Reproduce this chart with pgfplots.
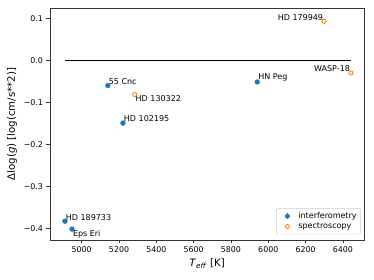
\documentclass[border=0pt]{standalone}
\usepackage{pgfplots}
\pgfplotsset{compat=1.18}
\usepackage{fontspec}
\setmainfont{DejaVu Sans}
\definecolor{mplblue}{HTML}{1F77B4}
\definecolor{mplorange}{HTML}{FF7F0E}
\begin{document}
\begin{tikzpicture}
\begin{axis}[
  scale only axis, width=314pt, height=232pt,
  xmin=4830, xmax=6513, ymin=-0.428, ymax=0.1255,
  xtick={5000,5200,5400,5600,5800,6000,6200,6400},
  xticklabels={5000,5200,5400,5600,5800,6000,6200,6400},
  ytick={-0.4,-0.3,-0.2,-0.1,0,0.1},
  yticklabels={−0.4,−0.3,−0.2,−0.1,0.0,0.1},
  tick align=outside, tick pos=left,
  major tick length=3.5pt,
  tick style={line width=0.8pt, black!80},
  ticklabel style={font=\fontsize{7.9}{9}\selectfont},
  axis line style={line width=0.8pt, black!80},
  xlabel={\textit{T}\textsubscript{\textit{eff}} [K]},
  ylabel={Δlog(\textit{g}) [log(cm/s**2)]},
  label style={font=\fontsize{10.2}{12}\selectfont},
  xlabel style={yshift=1pt},
  clip=false,
  legend style={at={(0.99,0.025)}, anchor=south east, draw=black!20, rounded corners=2pt,
    font=\fontsize{8}{9}\selectfont, row sep=-1pt, inner sep=2pt},
  legend cell align=left,
]
\addplot[black, line width=1.3pt, forget plot] coordinates {(4910,0) (6443,0)};
\addplot[only marks, mark=*, mark size=2.4pt, mplblue,
  legend image code/.code={\path (-0.1cm,0) (0.5cm,0); \draw[mplblue, line width=0.8pt] (0.2cm,-0.1cm)--(0.2cm,0.1cm); \fill[mplblue] (0.2cm,0cm) circle (2.2pt);}]
  coordinates {(5140,-0.0595) (5221,-0.149) (5941,-0.051) (4910,-0.383) (4948,-0.402)};
\addlegendentry{interferometry}
\addplot[only marks, mark=o, mark size=2.1pt, mplorange, line width=0.9pt,
  legend image code/.code={\path (-0.1cm,0) (0.5cm,0); \draw[mplorange, line width=0.8pt] (0.2cm,-0.1cm)--(0.2cm,0.1cm); \filldraw[draw=mplorange, fill=white, line width=0.9pt] (0.2cm,0cm) circle (2.0pt);}]
  coordinates {(5284,-0.081) (6299,0.094) (6443,-0.0295)};
\addlegendentry{spectroscopy}
\begin{scope}[every node/.style={font=\fontsize{8}{9}\selectfont, inner sep=0.8pt}]
\node[anchor=south west] at (axis cs:5140,-0.0595) {55 Cnc};
\node[anchor=north west] at (axis cs:5284,-0.081) {HD 130322};
\node[anchor=south west] at (axis cs:5221,-0.149) {HD 102195};
\node[anchor=south east] at (axis cs:6299,0.094) {HD 179949};
\node[anchor=south east] at (axis cs:6443,-0.0295) {WASP-18};
\node[anchor=south west] at (axis cs:5941,-0.051) {HN Peg};
\node[anchor=south west] at (axis cs:4910,-0.383) {HD 189733};
\node[anchor=north west] at (axis cs:4948,-0.402) {Eps Eri};
\end{scope}
\end{axis}
\path ([shift={(-50pt,-40pt)}]current axis.south west) rectangle ([shift={(10pt,8pt)}]current axis.north east);
\end{tikzpicture}
\end{document}
